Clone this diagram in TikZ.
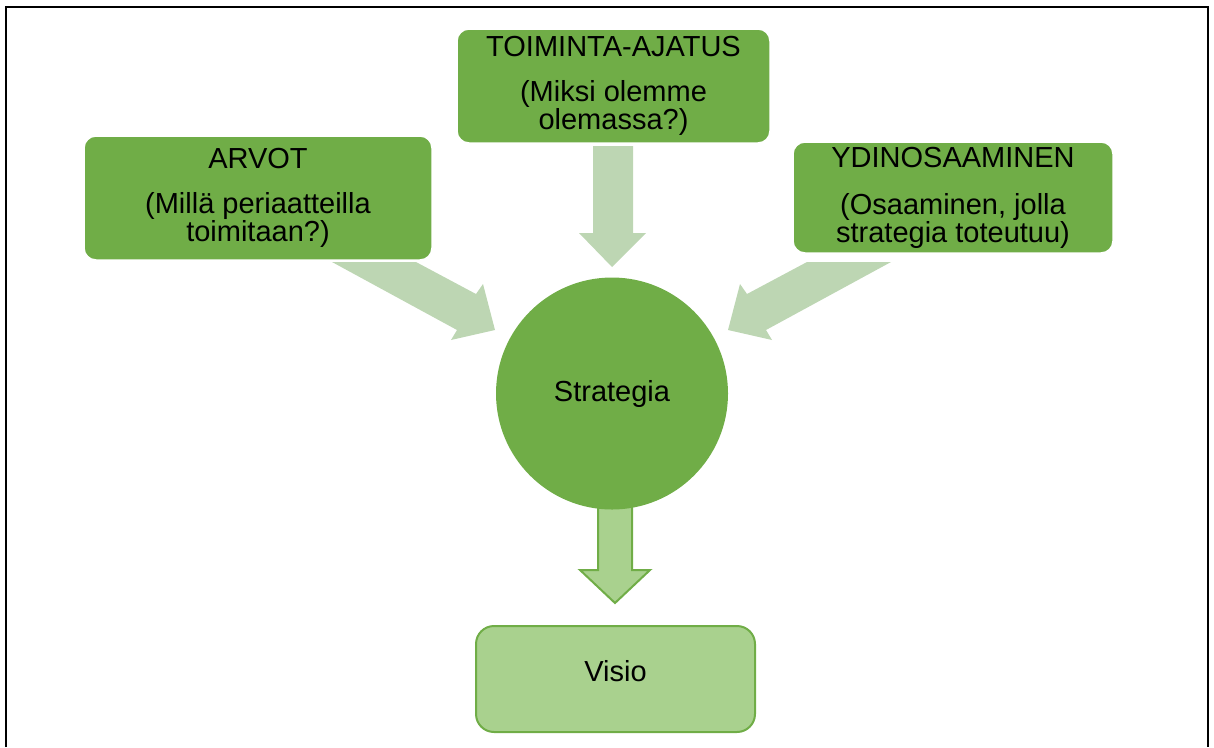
\documentclass[tikz,border=0pt]{standalone}
\usepackage{fontspec}
\setmainfont{Liberation Sans}
\definecolor{leaf}{HTML}{70AD47}
\definecolor{pale}{HTML}{A9D18E}
\definecolor{mist}{HTML}{BDD6B3}
\begin{document}
\begin{tikzpicture}[x=1pt,y=-1pt,
  txt/.style={font=\fontsize{29}{28}\selectfont, align=center, inner sep=0pt},
  box/.style={txt, rounded corners=12pt, fill=leaf, draw=white, line width=1.5pt},
  goal/.style={txt, rounded corners=18pt, fill=pale, draw=leaf, line width=2pt},
  hub/.style={txt, circle, fill=leaf, minimum size=232pt},
  feed/.style={fill=mist, draw=none},
  flow/.style={fill=pale, draw=leaf, line width=2pt, line join=miter}]
\useasboundingbox (0,0) rectangle (1214,747);

% outer frame, open at the bottom
\draw[line width=2.5pt] (6,747) -- (6,7) -- (1208,7) -- (1208,747);

% block arrows feeding the strategy
\coordinate (tipL) at (495,330);
\coordinate (tipT) at (612,267);
\coordinate (tipR) at (728,330);
\fill[feed] (332,262) -- (416,262) -- (476,294) -- (483,284) -- (tipL)
  -- (451,340) -- (457,330) -- cycle;
\fill[feed] (593,146) -- (633,146) -- (633,233) -- (646,233) -- (tipT)
  -- (579,233) -- (593,233) -- cycle;
\fill[feed] (891,262) -- (807,262) -- (747,294) -- (740,284) -- (tipR)
  -- (772,340) -- (766,330) -- cycle;

% arrow from strategy to vision
\coordinate (tipV) at (615,603);
\draw[flow] (598,500) -- (632,500) -- (632,570) -- (650,570) -- (tipV)
  -- (580,570) -- (598,570) -- cycle;

% boxes
\node[box, minimum width=348pt, minimum height=124pt] (arvot) at (258,198)
  {ARVOT\\[17pt](Millä periaatteilla\\toimitaan?)};
\node[box, minimum width=313pt, minimum height=114pt] (toiminta) at (613.5,86)
  {TOIMINTA-AJATUS\\[17pt](Miksi olemme\\olemassa?)};
\node[box, minimum width=320pt, minimum height=111pt] (ydin) at (953,197.5)
  {YDINOSAAMINEN\\[19pt](Osaaminen, jolla\\strategia toteutuu)};
\node[hub] (strategia) at (612,393.5) {Strategia};
\node[goal, minimum width=279pt, minimum height=106pt, text depth=17pt] (visio)
  at (615.5,679) {Visio};
\end{tikzpicture}
\end{document}
